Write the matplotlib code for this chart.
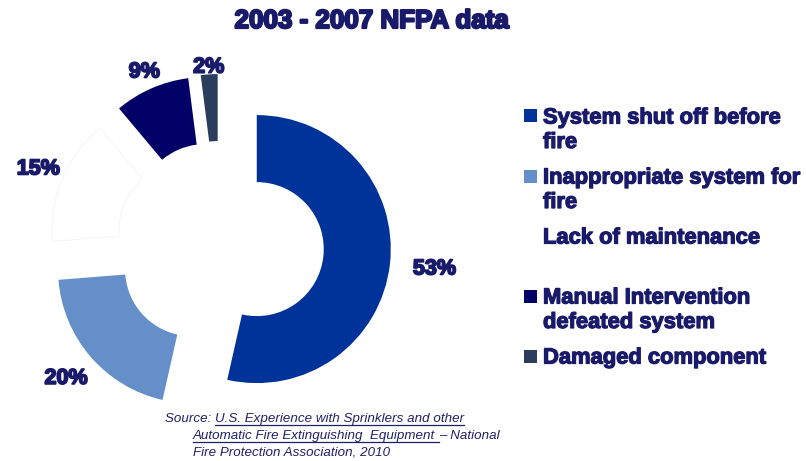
import numpy as np
import matplotlib.pyplot as plt
import matplotlib.patheffects as pe
from matplotlib.patches import Rectangle

# data
categories = ["System shut off before\nfire",
              "Inappropriate system for\nfire",
              "Lack of maintenance\n",
              "Manual Intervention\ndefeated system",
              "Damaged component"]
shares = [53, 20, 15, 9, 2]
pct_labels = ["53%", "20%", "15%", "9%", "2%"]
colors = ["#003399", "#658fc9", "#ffffff", "#000066", "#2a3d5c"]

W, H = 806, 461
navy = "#1a1a6b"
plt.rcParams["font.family"] = ["Liberation Sans", "DejaVu Sans"]

fig = plt.figure(figsize=(W / 100, H / 100), dpi=100)

# pie axes covering the whole figure, 1 unit = outer radius in pixels
R = 134
cx, cy = 220, 245
ax = fig.add_axes([0, 0, 1, 1])
wedges, _ = ax.pie(shares, colors=colors, startangle=90, counterclock=False,
                   explode=[0.276] * len(shares), radius=1,
                   wedgeprops=dict(width=0.5, linewidth=0))
wedges[2].set_edgecolor("#f3f3f7")
wedges[2].set_linewidth(0.6)
ax.set_aspect("auto")
ax.set_xlim(-cx / R, (W - cx) / R)
ax.set_ylim(-(H - cy) / R, cy / R)
ax.axis("off")

bold_fx = [pe.withStroke(linewidth=1.3, foreground=navy)]

# percentage labels, placed along each wedge's mid angle
label_dist = [1.61, 1.52, 1.47, 1.41, 1.33]
for w, lab, d in zip(wedges, pct_labels, label_dist):
    ang = np.deg2rad((w.theta1 + w.theta2) / 2)
    ax.text(d * np.cos(ang), d * np.sin(ang), lab, ha="center", va="center",
            fontsize=15.5, fontweight="bold", color=navy, path_effects=bold_fx)

# title
fig.text(372 / W, 1 - 21 / H, "2003 - 2007 NFPA data", ha="center", va="center",
         fontsize=18.7, fontweight="bold", color=navy,
         path_effects=[pe.withStroke(linewidth=1.6, foreground=navy)])

# legend drawn by hand so markers align with the first line
line_h, gap = 24.5, 11
y = 116
for cat, col in zip(categories, colors):
    lines = cat.split("\n")
    if col.lower() != "#ffffff":
        fig.add_artist(Rectangle((524 / W, 1 - (y + 6.5) / H), 13 / W, 13 / H,
                                 transform=fig.transFigure, facecolor=col,
                                 edgecolor="none"))
    for i, ln in enumerate(lines):
        if ln:
            fig.text(543 / W, 1 - (y + i * line_h + 7.5) / H, ln, ha="left",
                     va="baseline", fontsize=15.8, fontweight="bold", color=navy,
                     path_effects=[pe.withStroke(linewidth=0.9, foreground=navy)])
    y += len(lines) * line_h + gap

# source note with underlined title
src_kw = dict(fontsize=9.6, style="italic", color="#20206a", va="baseline", ha="left")
renderer = fig.canvas.get_renderer()


def underline(t):
    bb = t.get_window_extent(renderer)
    yb = t.get_position()[1] * H - 2.5
    fig.add_artist(plt.Line2D([bb.x0 / W, bb.x1 / W], [yb / H, yb / H],
                              transform=fig.transFigure, color="#20206a", lw=0.9))


t0 = fig.text(165 / W, 1 - 422 / H, "Source: ", **src_kw)
x1 = t0.get_window_extent(renderer).x1
t1 = fig.text(x1 / W, 1 - 422 / H, "U.S. Experience with Sprinklers and other", **src_kw)
underline(t1)
t2 = fig.text(193 / W, 1 - 439 / H, "Automatic Fire Extinguishing  Equipment ", **src_kw)
underline(t2)
x2 = t2.get_window_extent(renderer).x1
fig.text(x2 / W, 1 - 439 / H, "\u2013 National", **src_kw)
fig.text(193 / W, 1 - 455 / H, "Fire Protection Association, 2010", **src_kw)

fig.savefig("out.png", dpi=100)
